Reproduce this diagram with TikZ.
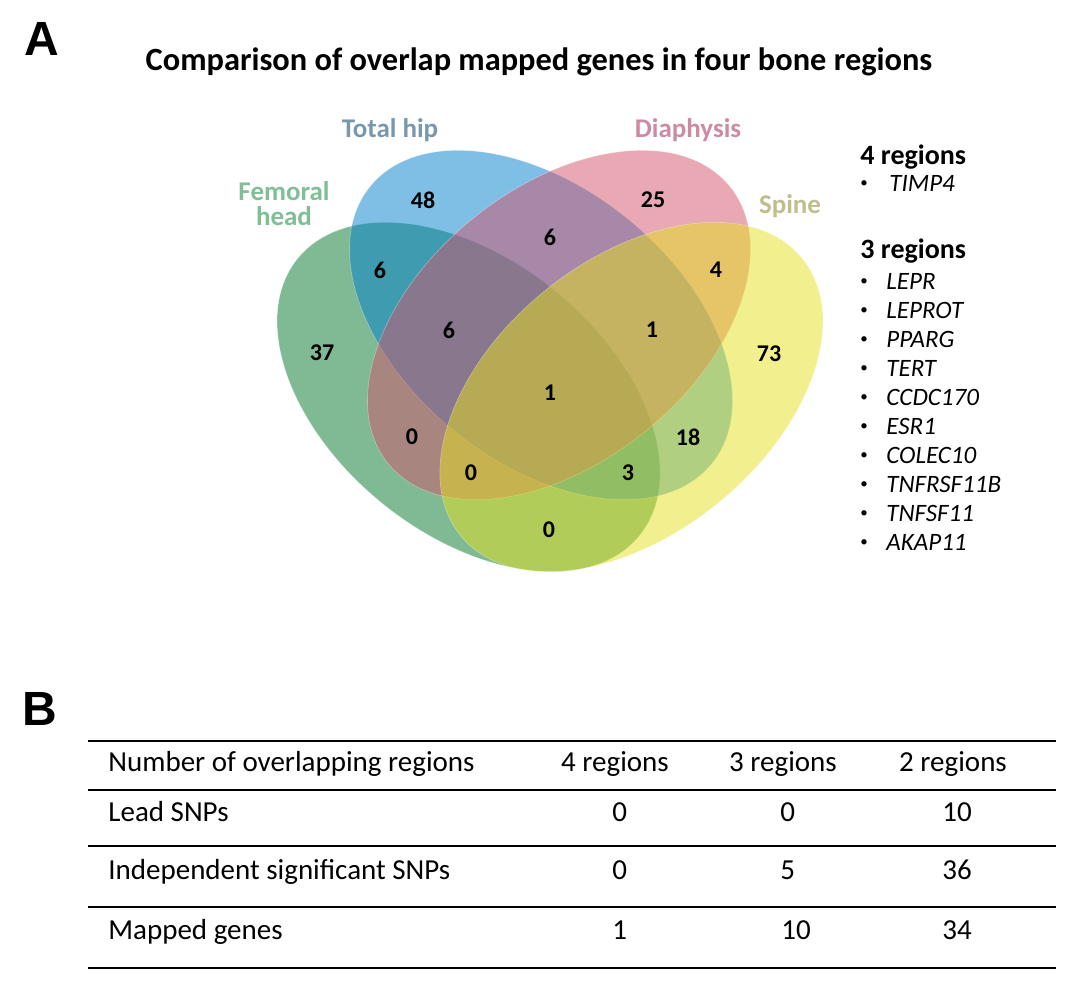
\documentclass[tikz,border=0pt]{standalone}
\usepackage{fontspec}
\setmainfont{Carlito}
\newfontfamily\panelfont{Liberation Sans}
\usetikzlibrary{positioning}
\definecolor{fh_green}{RGB}{0,117,41}
\definecolor{th_blue}{RGB}{0,127,205}
\definecolor{dp_pink}{RGB}{209,83,107}
\definecolor{sp_yellow}{RGB}{229,223,29}
\definecolor{fh_text}{RGB}{128,190,150}
\definecolor{th_text}{RGB}{122,152,172}
\definecolor{dp_text}{RGB}{204,140,160}
\definecolor{sp_text}{RGB}{192,190,140}
\tikzstyle{set}=[fill opacity=0.5,draw=white,draw opacity=0.35,line width=0.3pt]
\tikzstyle{panel}=[font=\panelfont\bfseries\fontsize{24}{28}\selectfont,anchor=base west,inner sep=0pt]
\tikzstyle{title}=[font=\bfseries\fontsize{16.2}{19}\selectfont,anchor=base,inner sep=0pt]
\tikzstyle{setname}=[font=\bfseries\fontsize{13.5}{12.5}\selectfont,anchor=base,inner sep=0pt,align=center]
\tikzstyle{num}=[font=\bfseries\fontsize{12}{14}\selectfont,inner sep=0pt]
\tikzstyle{head}=[font=\bfseries\fontsize{14}{16}\selectfont,anchor=base west,inner sep=0pt]
\tikzstyle{gene}=[font=\itshape\fontsize{12.5}{15}\selectfont,anchor=base west,inner sep=0pt]
\tikzstyle{dot}=[font=\fontsize{7.5}{9}\selectfont,anchor=base,inner sep=0pt]
\tikzstyle{cell}=[font=\fontsize{14.5}{17}\selectfont,anchor=base west,inner sep=0pt]
\tikzstyle{colhead}=[font=\fontsize{14.5}{17}\selectfont,anchor=base,inner sep=0pt]
\tikzstyle{rule}=[line width=1.2pt]
\begin{document}
\begin{tikzpicture}[x=0.5pt,y=-0.5pt]
            \useasboundingbox (0,0) rectangle (1074,980);
            % panel A: venn diagram
            \node [style=panel] (0) at (24,55) {A};
            \node [style=title] (1) at (539,70) {Comparison of overlap mapped genes in four bone regions};
            \fill [style=set,fill=fh_green,shift={(468.6,397)},rotate=-39] (0,0) ellipse [x radius=110pt,y radius=68.5pt];
            \fill [style=set,fill=th_blue,shift={(541,325)},rotate=-39] (0,0) ellipse [x radius=110pt,y radius=68.5pt];
            \fill [style=set,fill=dp_pink,shift={(559,325)},rotate=39] (0,0) ellipse [x radius=110pt,y radius=68.5pt];
            \fill [style=set,fill=sp_yellow,shift={(631.4,397)},rotate=39] (0,0) ellipse [x radius=110pt,y radius=68.5pt];
            \node [style=setname,text=th_text] (2) at (390,137) {Total hip};
            \node [style=setname,text=dp_text] (3) at (688,137) {Diaphysis};
            \node [style=setname,text=fh_text] (4) at (284,225) {Femoral\\head};
            \node [style=setname,text=sp_text] (5) at (790,213) {Spine};
            \node [style=num] (6) at (423,200) {48};
            \node [style=num] (7) at (653,200) {25};
            \node [style=num] (8) at (380,270) {6};
            \node [style=num] (9) at (550,237) {6};
            \node [style=num] (10) at (716,270) {4};
            \node [style=num] (11) at (322,353) {37};
            \node [style=num] (12) at (449,330) {6};
            \node [style=num] (13) at (652,330) {1};
            \node [style=num] (14) at (769,354) {73};
            \node [style=num] (15) at (550,393) {1};
            \node [style=num] (16) at (412,437) {0};
            \node [style=num] (17) at (688,437) {18};
            \node [style=num] (18) at (471,473) {0};
            \node [style=num] (19) at (628,473) {3};
            \node [style=num] (20) at (549,530) {0};
            % gene lists
            \node [style=head] (21) at (860,164) {4 regions};
            \node [style=dot] (22) at (864,187.5) {•};
            \node [style=gene] (23) at (889,191) {TIMP4};
            \node [style=head] (24) at (860,258) {3 regions};
            \node [style=dot] (25) at (864,285.5) {•};
            \node [style=gene] (26) at (886,289) {LEPR};
            \node [style=dot] (27) at (864,314.5) {•};
            \node [style=gene] (28) at (886,318) {LEPROT};
            \node [style=dot] (29) at (864,343.5) {•};
            \node [style=gene] (30) at (886,347) {PPARG};
            \node [style=dot] (31) at (864,372.5) {•};
            \node [style=gene] (32) at (886,376) {TERT};
            \node [style=dot] (33) at (864,401.5) {•};
            \node [style=gene] (34) at (886,405) {CCDC170};
            \node [style=dot] (35) at (864,430.5) {•};
            \node [style=gene] (36) at (886,434) {ESR1};
            \node [style=dot] (37) at (864,459.5) {•};
            \node [style=gene] (38) at (886,463) {COLEC10};
            \node [style=dot] (39) at (864,488.5) {•};
            \node [style=gene] (40) at (886,492) {TNFRSF11B};
            \node [style=dot] (41) at (864,517.5) {•};
            \node [style=gene] (42) at (886,521) {TNFSF11};
            \node [style=dot] (43) at (864,546.5) {•};
            \node [style=gene] (44) at (886,550) {AKAP11};
            % panel B: table
            \node [style=panel] (45) at (22,725) {B};
            \draw [style=rule] (88,741) -- (1056,741);
            \draw [style=rule] (88,790) -- (1056,790);
            \draw [style=rule] (88,846) -- (1056,846);
            \draw [style=rule] (88,907) -- (1056,907);
            \draw [style=rule] (88,968) -- (1056,968);
            \node [style=cell] (46) at (108,771) {Number of overlapping regions};
            \node [style=colhead] (47) at (615,771) {4 regions};
            \node [style=colhead] (48) at (783,771) {3 regions};
            \node [style=colhead] (49) at (953,771) {2 regions};
            \node [style=cell] (50) at (108,821) {Lead SNPs};
            \node [style=cell] (51) at (612,821) {0};
            \node [style=cell] (52) at (780,821) {0};
            \node [style=cell] (53) at (942,821) {10};
            \node [style=cell] (54) at (108,879) {Independent significant SNPs};
            \node [style=cell] (55) at (612,879) {0};
            \node [style=cell] (56) at (780,879) {5};
            \node [style=cell] (57) at (942,879) {36};
            \node [style=cell] (58) at (108,939) {Mapped genes};
            \node [style=cell] (59) at (612,939) {1};
            \node [style=cell] (60) at (781,939) {10};
            \node [style=cell] (61) at (942,939) {34};
    \end{tikzpicture}
\end{document}
